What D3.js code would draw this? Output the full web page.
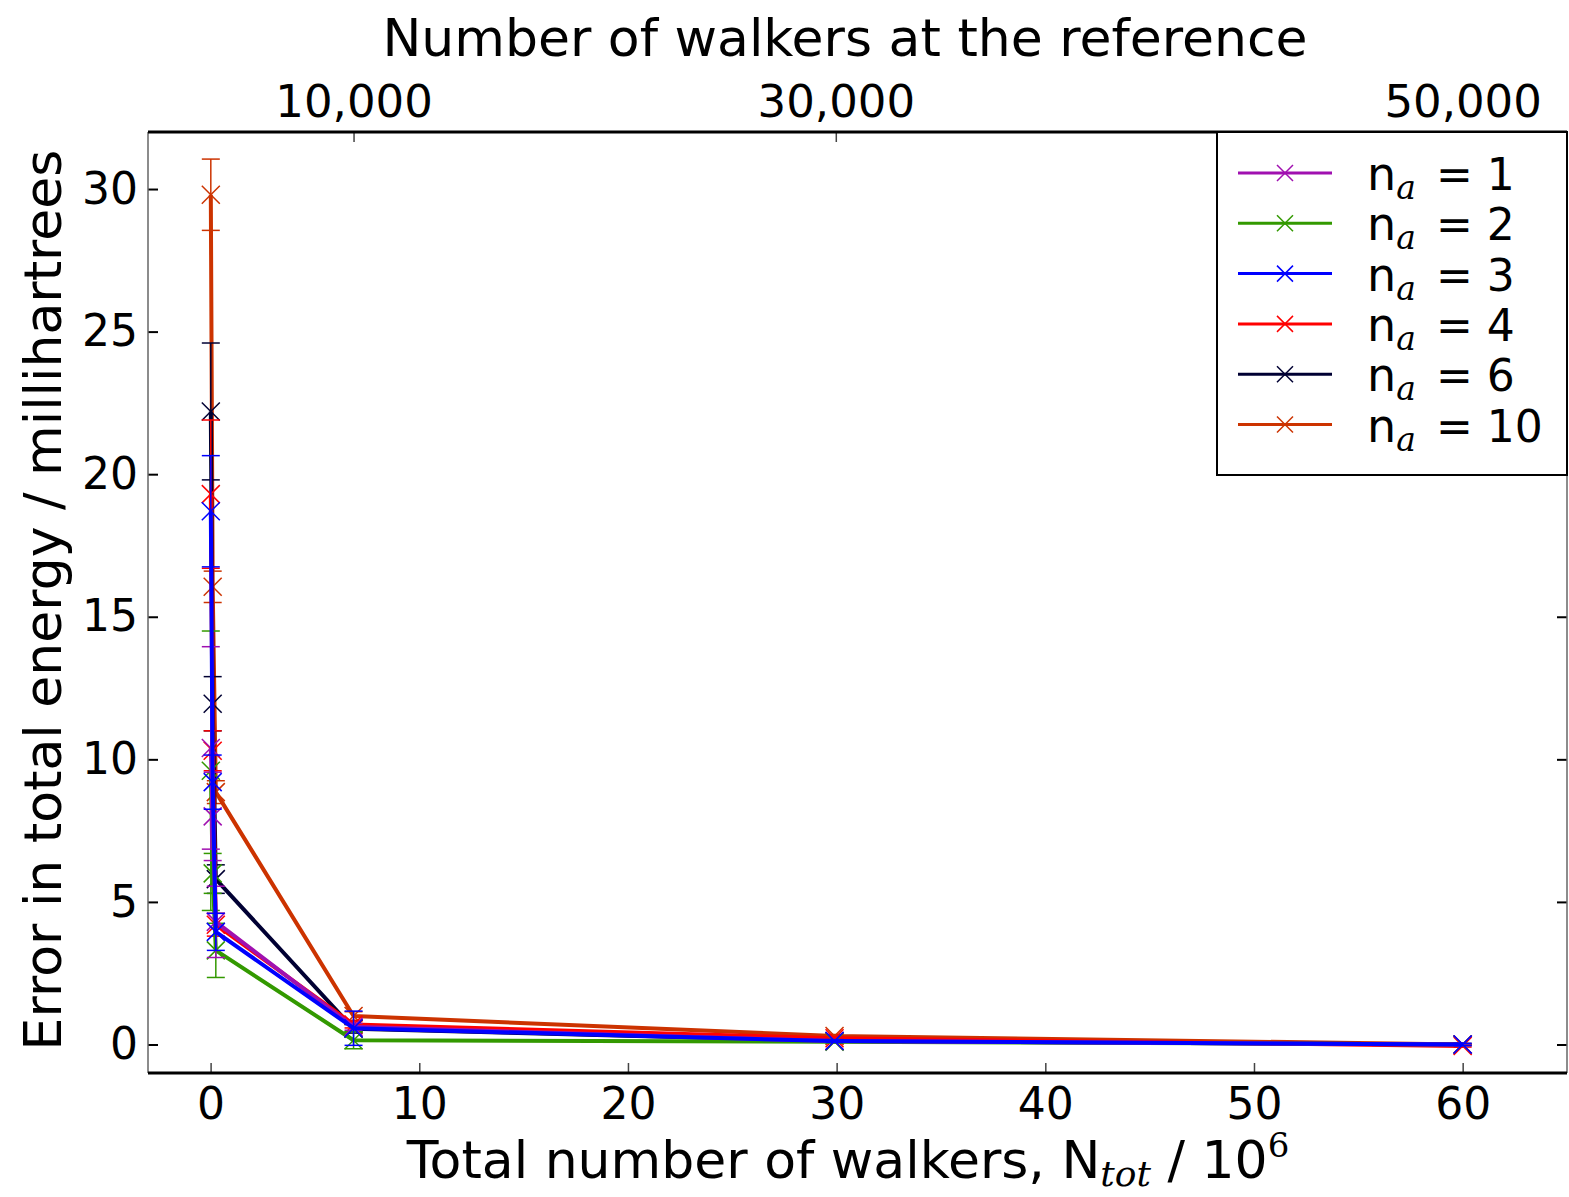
<!DOCTYPE html>
<html>
<head>
<meta charset="utf-8">
<script src="https://cdn.jsdelivr.net/npm/d3@7"></script>
<style>
  body { margin: 0; background: #fff; }
  text { font-family: "DejaVu Sans", sans-serif; fill: #000; }
</style>
</head>
<body>
<svg id="chart" width="1569" height="1197"></svg>
<script>
// Total number of walkers (millions) at which each run was sampled
const walkers = [0.01, 0.1, 0.25, 6.85, 29.9, 60];

// Error in total energy (millihartrees) and its error bar, per initiator threshold n_a
const na1Err   = [10.4, 8.0, 4.3, 0.62, 0.12, 0.0];
const na1Bar   = [3.55, 1.55, 1.25, 0.12, 0.04, 0.03];
const na2Err   = [9.6, 6.0, 3.3, 0.15, 0.10, 0.0];
const na2Bar   = [4.9, 0.7, 0.95, 0.3, 0.04, 0.03];
const na3Err   = [18.7, 9.2, 3.95, 0.57, 0.12, 0.0];
const na3Bar   = [1.95, 0.95, 0.65, 0.6, 0.05, 0.04];
const na4Err   = [19.3, 10.3, 4.2, 0.7, 0.22, -0.05];
const na4Bar   = [2.6, 0.7, 0.4, 0.12, 0.05, 0.04];
const na6Err   = [22.2, 11.95, 5.8, 0.55, 0.12, 0.0];
const na6Bar   = [2.4, 0.95, 0.5, 0.15, 0.05, 0.03];
const na10Err  = [29.8, 16.05, 8.85, 1.0, 0.3, 0.0];
const na10Bar  = [1.25, 0.55, 0.4, 0.15, 0.05, 0.03];

const seriesNames  = ["1", "2", "3", "4", "6", "10"];
const seriesColors = ["#a010b0", "#339900", "#0000ff", "#ff0000", "#000033", "#cc3300"];
const seriesValues = [na1Err, na2Err, na3Err, na4Err, na6Err, na10Err];
const seriesBars   = [na1Bar, na2Bar, na3Bar, na4Bar, na6Bar, na10Bar];

// Bottom axis ticks, left axis ticks, and the top (reference walker) axis
const xTicks = [0, 10, 20, 30, 40, 50, 60];
const yTicks = [0, 5, 10, 15, 20, 25, 30];
const refTickPositions = [6.85, 29.96, 60];
const refTickLabels = ["10,000", "30,000", "50,000"];

// Drawing order (back to front)
const drawOrder = [5, 4, 3, 1, 0, 2];

const svg = d3.select("#chart");
const m = { left: 148, right: 1567, top: 132, bottom: 1073 };

const x = d3.scaleLinear().domain([-3, 65]).range([m.left, m.right]);
const y = d3.scaleLinear().domain([-1, 32]).range([m.bottom, m.top]);

const tickFont = 44;

// Bottom axis
const gx = svg.append("g").attr("transform", `translate(0,${m.bottom})`)
  .call(d3.axisBottom(x).tickValues(xTicks).tickFormat(d3.format("d")).tickSize(-10).tickPadding(15));
// Left axis
const gy = svg.append("g").attr("transform", `translate(${m.left},0)`)
  .call(d3.axisLeft(y).tickValues(yTicks).tickFormat(d3.format("d")).tickSize(-10).tickPadding(10));
// Right axis (ticks only)
const gr = svg.append("g").attr("transform", `translate(${m.right},0)`)
  .call(d3.axisRight(y).tickValues(yTicks).tickFormat("").tickSize(-10));
// Top axis: walkers at the reference
const gt = svg.append("g").attr("transform", `translate(0,${m.top})`)
  .call(d3.axisTop(x).tickValues(refTickPositions).tickFormat((d, i) => refTickLabels[i]).tickSize(-10).tickPadding(15));

[gx, gy, gr, gt].forEach(g => {
  g.select(".domain").remove();
  g.selectAll("text").style("font-family", "DejaVu Sans").style("font-size", tickFont + "px").attr("fill", "#000");
});
gt.selectAll("text").style("font-size", "45px");
gx.selectAll(".tick line").attr("stroke", "#444").attr("stroke-width", 1.5);
gt.selectAll(".tick line").attr("stroke", "#444").attr("stroke-width", 1.5);
gy.selectAll(".tick line").attr("stroke", "#000").attr("stroke-width", 2);
gr.selectAll(".tick line").attr("stroke", "#000").attr("stroke-width", 2);

// Plot frame
svg.append("line").attr("x1", m.left).attr("x2", m.left).attr("y1", m.top).attr("y2", m.bottom)
  .attr("stroke", "#666").attr("stroke-width", 1.5);
svg.append("line").attr("x1", m.right).attr("x2", m.right).attr("y1", m.top).attr("y2", m.bottom)
  .attr("stroke", "#666").attr("stroke-width", 1.5);
svg.append("line").attr("x1", m.left).attr("x2", m.right).attr("y1", m.top).attr("y2", m.top)
  .attr("stroke", "#000").attr("stroke-width", 3);
svg.append("line").attr("x1", m.left).attr("x2", m.right).attr("y1", m.bottom).attr("y2", m.bottom)
  .attr("stroke", "#000").attr("stroke-width", 3);

// Series: line, error bars with caps, and x markers
const line = d3.line().x(d => x(d.n)).y(d => y(d.e));
const capHalf = 9, markHalf = 9;
const plot = svg.append("g");

drawOrder.forEach(si => {
  const color = seriesColors[si];
  const pts = walkers.map((n, i) => ({ n, e: seriesValues[si][i], s: seriesBars[si][i] }));
  const g = plot.append("g");
  g.append("path").datum(pts).attr("d", line)
    .attr("fill", "none").attr("stroke", color).attr("stroke-width", 4).attr("stroke-linejoin", "round");
  const eb = g.selectAll(".eb").data(pts).join("g");
  eb.append("line")
    .attr("x1", d => x(d.n)).attr("x2", d => x(d.n))
    .attr("y1", d => y(d.e - d.s)).attr("y2", d => y(d.e + d.s))
    .attr("stroke", color).attr("stroke-width", 1.5);
  [-1, 1].forEach(sg => {
    eb.append("line")
      .attr("x1", d => x(d.n) - capHalf).attr("x2", d => x(d.n) + capHalf)
      .attr("y1", d => y(d.e + sg * d.s)).attr("y2", d => y(d.e + sg * d.s))
      .attr("stroke", color).attr("stroke-width", 1.5);
  });
  eb.append("path")
    .attr("d", d => {
      const cx = x(d.n), cy = y(d.e);
      return `M${cx - markHalf},${cy - markHalf}L${cx + markHalf},${cy + markHalf}M${cx - markHalf},${cy + markHalf}L${cx + markHalf},${cy - markHalf}`;
    })
    .attr("stroke", color).attr("stroke-width", 1.5).attr("fill", "none");
});

// Legend
const lg = svg.append("g");
lg.append("rect").attr("x", 1217).attr("y", m.top).attr("width", m.right - 1217).attr("height", 475 - m.top)
  .attr("fill", "#fff").attr("stroke", "#000").attr("stroke-width", 2);
seriesNames.forEach((name, i) => {
  const ry = 173 + i * 50.3;
  const c = seriesColors[i];
  lg.append("line").attr("x1", 1238).attr("x2", 1332).attr("y1", ry).attr("y2", ry)
    .attr("stroke", c).attr("stroke-width", 3);
  lg.append("path")
    .attr("d", `M1277,${ry - 8}L1293,${ry + 8}M1277,${ry + 8}L1293,${ry - 8}`)
    .attr("stroke", c).attr("stroke-width", 1.5);
  const t = lg.append("text").attr("x", 1367).attr("y", ry + 17);
  t.append("tspan").style("font-size", "46px").text("n");
  t.append("tspan").attr("dy", 9).style("font-family", "DejaVu Serif").style("font-style", "italic")
    .style("font-size", "33px").text("a");
  t.append("tspan").attr("x", 1436).attr("dy", -9).style("font-size", "44px").text("= " + name);
});

// Axis titles
const labelFont = 52;
svg.append("text").attr("x", 845).attr("y", 56).attr("text-anchor", "middle")
  .style("font-size", labelFont + "px").text("Number of walkers at the reference");

const xl = svg.append("text").attr("x", 848).attr("y", 1178).attr("text-anchor", "middle")
  .style("font-size", labelFont + "px");
xl.append("tspan").text("Total number of walkers, N");
xl.append("tspan").attr("dy", 8).style("font-family", "DejaVu Serif").style("font-style", "italic")
  .style("font-size", "36px").text("tot");
xl.append("tspan").attr("dy", -8).text(" / 10");
xl.append("tspan").attr("dy", -21).style("font-family", "DejaVu Serif").style("font-size", "34px").text("6");

svg.append("text").attr("transform", "translate(61,600) rotate(-90)").attr("text-anchor", "middle")
  .style("font-size", labelFont + "px").text("Error in total energy / millihartrees");
</script>
</body>
</html>
